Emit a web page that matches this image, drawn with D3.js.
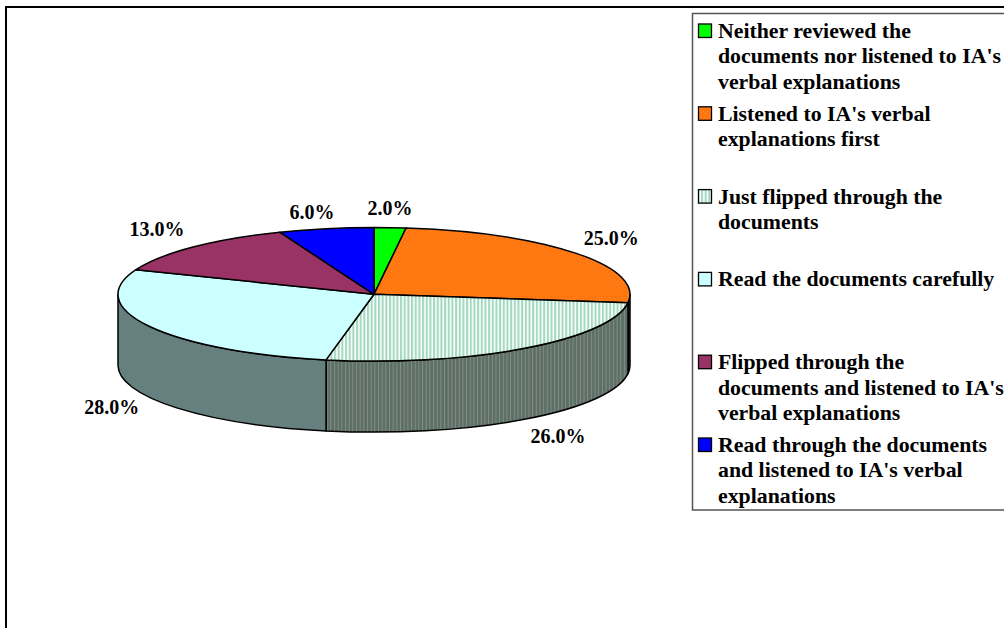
<!DOCTYPE html>
<html lang="en">
<head>
    <meta charset="UTF-8">
    <title>D3 - 3D Pie</title>
    <script src="https://d3js.org/d3.v7.min.js"></script>
    <style>
        html, body { margin: 0; padding: 0; background: white; overflow: hidden; }
        svg { display: block; }
        text { font-family: "Liberation Serif", "Times New Roman", serif; font-weight: bold; fill: black; }
        .pct { font-size: 20px; text-anchor: middle; }
        .leg { font-size: 21.8px; }
    </style>
</head>
<body>
<svg id="chart" width="1004" height="628"></svg>
<script>
    // values, clockwise from 12 o'clock
    const categories = [
        ["Neither reviewed the", "documents nor listened to IA's", "verbal explanations"],
        ["Listened to IA's verbal", "explanations first"],
        ["Just flipped through the", "documents"],
        ["Read the documents carefully"],
        ["Flipped through the", "documents and listened to IA's", "verbal explanations"],
        ["Read through the documents", "and listened to IA's verbal", "explanations"]
    ];
    const shares = [2, 25, 26, 28, 13, 6];
    const topFills = ["#00ff00", "url(#orangeDots)", "url(#paleStripes)", "#ccffff", "#993366", "#0000ff"];
    const sideFills = ["#009900", "#4a2410", "url(#darkStripes)", "#668080", "#5c1f3d", "#000099"];
    // label shift from the rim point at the middle of each slice
    const labelNudge = [[0, -12.6], [35, -8], [33.5, 24], [-38, 17], [-36, -11], [-14, -9.4]];

    const cx = 374, cy = 294.3, rx = 256, ry = 66.8, depth = 71;

    const svg = d3.select("#chart");
    const defs = svg.append("defs");

    const orange = defs.append("pattern").attr("id", "orangeDots")
        .attr("width", 4).attr("height", 4).attr("patternUnits", "userSpaceOnUse");
    orange.append("rect").attr("width", 4).attr("height", 4).attr("fill", "#ff7610");
    orange.append("rect").attr("width", 1).attr("height", 1).attr("x", 1).attr("y", 1).attr("fill", "#ff8a1c");
    orange.append("rect").attr("width", 1).attr("height", 1).attr("x", 3).attr("y", 3).attr("fill", "#ff8a1c");

    const pale = defs.append("pattern").attr("id", "paleStripes")
        .attr("width", 3.67).attr("height", 4).attr("patternUnits", "userSpaceOnUse");
    pale.append("rect").attr("width", 3.67).attr("height", 4).attr("fill", "#ffffff");
    pale.append("rect").attr("width", 2.1).attr("height", 4).attr("fill", "#a3d9c2");

    const dark = defs.append("pattern").attr("id", "darkStripes")
        .attr("width", 3.67).attr("height", 4).attr("patternUnits", "userSpaceOnUse");
    dark.append("rect").attr("width", 3.67).attr("height", 4).attr("fill", "#587068");
    dark.append("rect").attr("width", 1).attr("height", 4).attr("fill", "#8c8a80");

    // outer frame, right and bottom edges run off the page
    svg.append("rect").attr("x", 6).attr("y", 7).attr("width", 1100).attr("height", 700)
        .attr("fill", "white").attr("stroke", "black").attr("stroke-width", 2);

    // angle (radians clockwise from top) to ellipse position
    const ptX = a => cx + rx * Math.sin(a);
    const ptY = a => cy - ry * Math.cos(a);

    const slices = d3.pie().sort(null).value(d => d)(shares);

    const topPath = d => {
        const large = d.endAngle - d.startAngle > Math.PI ? 1 : 0;
        return `M${cx},${cy}L${ptX(d.startAngle)},${ptY(d.startAngle)}` +
            `A${rx},${ry} 0 ${large} 1 ${ptX(d.endAngle)},${ptY(d.endAngle)}Z`;
    };
    const sidePath = d => {
        // only the front half of the rim shows
        const a0 = Math.max(d.startAngle, Math.PI / 2), a1 = Math.min(d.endAngle, Math.PI * 1.5);
        if (a1 <= a0) return null;
        return `M${ptX(a0)},${ptY(a0)}A${rx},${ry} 0 0 1 ${ptX(a1)},${ptY(a1)}` +
            `L${ptX(a1)},${ptY(a1) + depth}A${rx},${ry} 0 0 0 ${ptX(a0)},${ptY(a0) + depth}Z`;
    };

    const pie = svg.append("g");
    pie.selectAll("path.side")
        .data(slices.filter(d => sidePath(d)))
        .enter()
        .append("path")
        .attr("class", "side")
        .attr("d", sidePath)
        .attr("fill", d => sideFills[d.index])
        .attr("stroke", "black")
        .attr("stroke-width", 1.5)
        .attr("stroke-linejoin", "round");
    pie.selectAll("path.top")
        .data(slices)
        .enter()
        .append("path")
        .attr("class", "top")
        .attr("d", topPath)
        .attr("fill", d => topFills[d.index])
        .attr("stroke", "black")
        .attr("stroke-width", 1.5)
        .attr("stroke-linejoin", "round");

    pie.selectAll("text")
        .data(slices)
        .enter()
        .append("text")
        .attr("class", "pct")
        .attr("x", d => ptX((d.startAngle + d.endAngle) / 2) + labelNudge[d.index][0])
        .attr("y", d => {
            const mid = (d.startAngle + d.endAngle) / 2;
            const front = mid > Math.PI / 2 && mid < Math.PI * 1.5;
            return ptY(mid) + (front ? depth : 0) + labelNudge[d.index][1];
        })
        .text(d => d3.format(".1f")(d.value) + "%");

    // legend
    const legend = svg.append("g");
    legend.append("rect").attr("x", 692.5).attr("y", 13.5).attr("width", 400).attr("height", 496.5)
        .attr("fill", "white").attr("stroke", "#555555").attr("stroke-width", 1.5);

    const rowY = d3.scaleLinear().domain([0, categories.length - 1]).range([37, 451]);
    const rows = legend.selectAll("g.row")
        .data(categories)
        .enter()
        .append("g")
        .attr("class", "row")
        .attr("transform", (d, i) => `translate(0,${rowY(i)})`);
    rows.append("rect")
        .attr("x", 698.5).attr("y", -13).attr("width", 13).attr("height", 13.5)
        .attr("fill", (d, i) => topFills[i])
        .attr("stroke", "black")
        .attr("stroke-width", 1.3);
    rows.selectAll("text")
        .data(d => d)
        .enter()
        .append("text")
        .attr("class", "leg")
        .attr("x", 718)
        .attr("y", (d, i) => 1 + i * 25.4)
        .text(d => d);
</script>
</body>
</html>
